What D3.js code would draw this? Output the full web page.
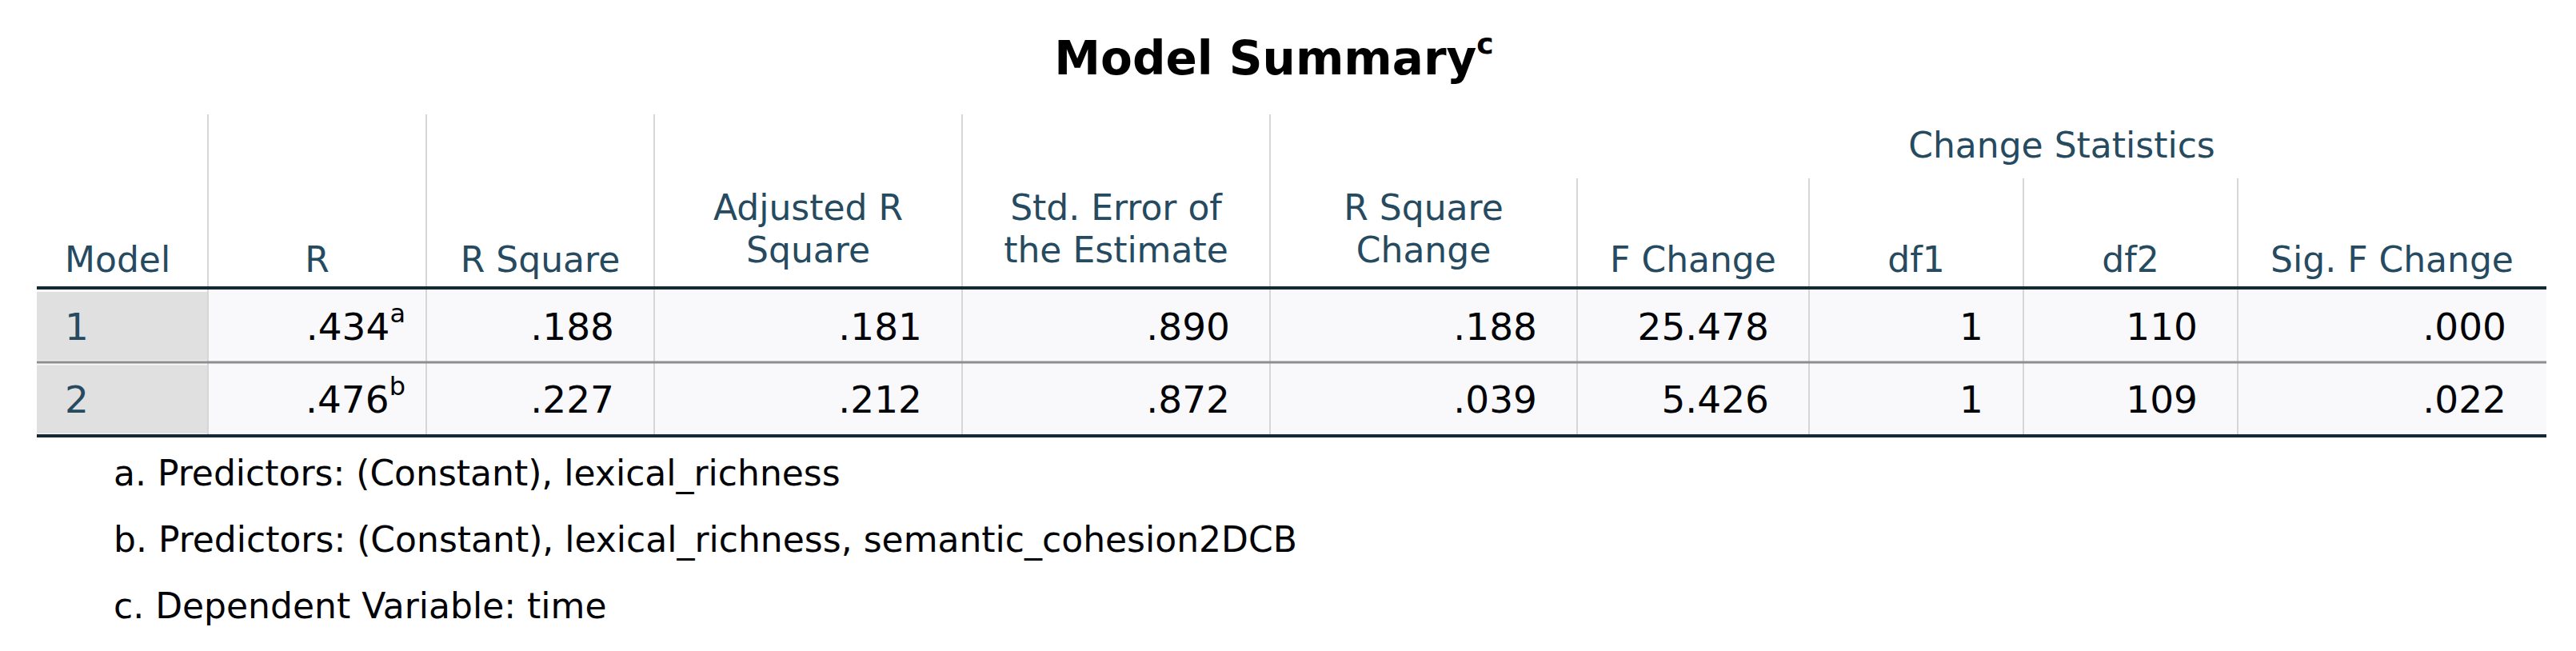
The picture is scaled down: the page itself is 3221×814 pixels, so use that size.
<!DOCTYPE html>
<html>
<head>
<meta charset="utf-8">
<script src="https://cdn.jsdelivr.net/npm/d3@7"></script>
<style>
  body { margin: 0; background: #fff; }
  text { font-family: "DejaVu Sans", sans-serif; }
</style>
</head>
<body>
<svg id="chart"></svg>
<script>
const width = 3221, height = 814;

// table content
const title = 'Model Summary';
const titleNote = 'c';
const headers = [
  ['Model'], ['R'], ['R Square'], ['Adjusted R', 'Square'], ['Std. Error of', 'the Estimate'],
  ['R Square', 'Change'], ['F Change'], ['df1'], ['df2'], ['Sig. F Change']
];
const groupHeader = 'Change Statistics';
const models = ['1', '2'];
const rValues = ['.434', '.476'];
const rNotes = ['a', 'b'];
const rSquare = ['.188', '.227'];
const adjRSquare = ['.181', '.212'];
const stdError = ['.890', '.872'];
const rSquareChange = ['.188', '.039'];
const fChange = ['25.478', '5.426'];
const df1 = ['1', '1'];
const df2 = ['110', '109'];
const sigFChange = ['.000', '.022'];
const footnotes = [
  'a. Predictors: (Constant), lexical_richness',
  'b. Predictors: (Constant), lexical_richness, semantic_cohesion2DCB',
  'c. Dependent Variable: time'
];

// column edges
const edges = [46, 260, 533, 818, 1203, 1588, 1972, 2262, 2530, 2798, 3184];
const headerColor = '#264a60', dataColor = '#010205';
const fs = 44;

const svg = d3.select('#chart').attr('width', width).attr('height', height);

// title
const t = svg.append('text').attr('x', 1593).attr('y', 93).attr('text-anchor', 'middle')
  .attr('font-size', 58).attr('font-weight', 'bold').attr('fill', '#000').text(title);
t.append('tspan').attr('font-size', 36).attr('dy', -26).text(titleNote);

const y = d3.scaleBand().domain(models).range([362, 545]);

// row backgrounds
models.forEach(m => {
  svg.append('rect').attr('x', edges[0]).attr('y', y(m)).attr('width', edges[10] - edges[0])
    .attr('height', y.bandwidth()).attr('fill', '#f9f9fb');
  svg.append('rect').attr('x', edges[0]).attr('y', y(m) + 3).attr('width', edges[1] - edges[0])
    .attr('height', y.bandwidth() - 6).attr('fill', '#e0e0e0');
});

// vertical grid lines
edges.slice(1, -1).forEach((x, i) => {
  const top = i >= 5 ? 223 : 143;
  svg.append('line').attr('x1', x).attr('x2', x).attr('y1', top).attr('y2', 545)
    .attr('stroke', '#d6d6d6').attr('stroke-width', 2);
});

// horizontal rules
svg.append('line').attr('x1', edges[0]).attr('x2', edges[10]).attr('y1', 360).attr('y2', 360)
  .attr('stroke', '#152935').attr('stroke-width', 4);
svg.append('line').attr('x1', edges[0]).attr('x2', edges[10]).attr('y1', 453).attr('y2', 453)
  .attr('stroke', '#8e8e8e').attr('stroke-width', 3);
svg.append('line').attr('x1', edges[0]).attr('x2', edges[10]).attr('y1', 545).attr('y2', 545)
  .attr('stroke', '#152935').attr('stroke-width', 4);

// headers
svg.append('text').attr('x', (edges[6] + edges[10]) / 2).attr('y', 197).attr('text-anchor', 'middle')
  .attr('font-size', fs).attr('fill', headerColor).text(groupHeader);
headers.forEach((lines, i) => {
  const cx = i === 0 ? edges[0] + 35 : (edges[i] + edges[i + 1]) / 2;
  const anchor = i === 0 ? 'start' : 'middle';
  lines.forEach((ln, j) => {
    const yy = lines.length === 1 ? 340 : (j === 0 ? 275 : 328);
    svg.append('text').attr('x', cx).attr('y', yy).attr('text-anchor', anchor)
      .attr('font-size', fs).attr('fill', headerColor).text(ln);
  });
});

// data cells
const cols = [rValues, rSquare, adjRSquare, stdError, rSquareChange, fChange, df1, df2, sigFChange];
models.forEach((m, r) => {
  const base = y(m) + y.bandwidth() / 2 + 17;
  svg.append('text').attr('x', edges[0] + 35).attr('y', base).attr('font-size', 47)
    .attr('fill', headerColor).text(m);
  cols.forEach((col, c) => {
    const right = edges[c + 2] - 50;
    if (c === 0) {
      const tx = svg.append('text').attr('x', right + 24).attr('y', base).attr('text-anchor', 'end')
        .attr('font-size', 47).attr('fill', dataColor).text(col[r]);
      tx.append('tspan').attr('font-size', 32).attr('dy', -22).text(rNotes[r]);
    } else {
      svg.append('text').attr('x', right).attr('y', base).attr('text-anchor', 'end')
        .attr('font-size', 47).attr('fill', dataColor).text(col[r]);
    }
  });
});

// footnotes
const fy = [607, 690, 773];
footnotes.forEach((f, i) => {
  svg.append('text').attr('x', 142).attr('y', fy[i]).attr('font-size', 44)
    .attr('fill', dataColor).text(f);
});
</script>
</body>
</html>
